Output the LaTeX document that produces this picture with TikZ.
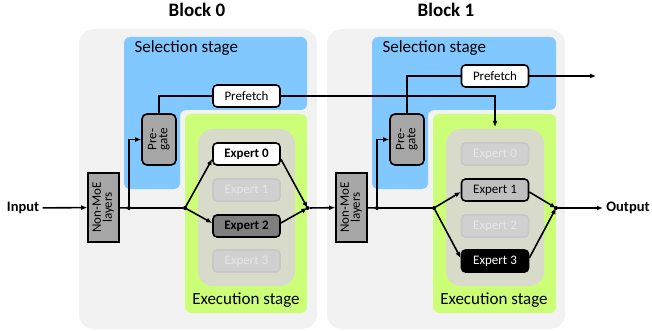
\documentclass[tikz,border=0pt]{standalone}
\usepackage{fontspec}
\setmainfont{Carlito}
\usepackage{graphicx}
\usetikzlibrary{arrows.meta,calc}
\definecolor{outerbg}{HTML}{F2F2F2}
\definecolor{selblue}{HTML}{80C8FF}
\definecolor{exgreen}{HTML}{CCFF77}
\definecolor{innerbg}{HTML}{D8DBC9}
\definecolor{boxgray}{HTML}{A6A6A6}
\definecolor{darkgray}{HTML}{7F7F7F}
\definecolor{midgray}{HTML}{BFBFBF}
\definecolor{fadefill}{HTML}{D0D0D0}
\definecolor{fadedraw}{HTML}{C8C8C8}
\definecolor{fadetext}{HTML}{E6E6E6}
\tikzset{
  line/.style={line width=1.6pt},
  arr/.style={line width=1.6pt,-{Latex[length=6pt,width=5pt]}},
  box/.style={draw,line width=1.6pt,inner sep=0pt,font=\fontsize{13}{14}\selectfont},
  expbox/.style={box,rounded corners=4pt,minimum width=67pt,minimum height=22pt},
  active/.style={expbox,fill=white,font=\fontsize{13}{14}\selectfont\bfseries},
  faded/.style={expbox,draw=fadedraw,fill=fadefill,text=fadetext},
  pgbox/.style={box,rounded corners=5pt,fill=boxgray,minimum width=34pt,minimum height=51pt},
  nmbox/.style={box,fill=boxgray,minimum width=31pt,minimum height=69pt},
  pfbox/.style={expbox,fill=white},
  dot/.style={circle,fill=black,inner sep=0pt,minimum size=4pt},
  title/.style={font=\fontsize{19}{20}\selectfont\bfseries},
  stagelbl/.style={font=\fontsize{17}{18}\selectfont},
  iolbl/.style={font=\fontsize{14.5}{16}\selectfont\bfseries},
}
\begin{document}
\begin{tikzpicture}[x=1pt,y=-1pt]
\useasboundingbox (0,0) rectangle (652,331);
% ---------- backgrounds ----------
\fill[outerbg,rounded corners=15pt] (79,29) rectangle (317,329);
\fill[outerbg,rounded corners=15pt] (327,29) rectangle (565,329);
\fill[selblue,rounded corners=6pt] (124,37) -- (307,37) -- (307,110) -- (180,110) -- (180,189) -- (124,189) -- cycle;
\fill[selblue,rounded corners=6pt] (372,37) -- (556,37) -- (556,110) -- (428,110) -- (428,189) -- (372,189) -- cycle;
\fill[exgreen,rounded corners=6pt] (185,114) rectangle (307,313);
\fill[exgreen,rounded corners=6pt] (433,114) rectangle (556,313);
\fill[innerbg,rounded corners=15pt] (198,129) rectangle (295,286);
\fill[innerbg,rounded corners=15pt] (446,129) rectangle (544,286);
% ---------- titles and stage labels ----------
\node[title] (t0) at (197,10) {Block 0};
\node[title] (t1) at (446,10) {Block 1};
\node[stagelbl,anchor=west] (sl0) at (131,48) {Selection stage};
\node[stagelbl,anchor=west] (sl1) at (379,48) {Selection stage};
\node[stagelbl] (el0) at (246,300) {Execution stage};
\node[stagelbl] (el1) at (494,300) {Execution stage};
% ---------- Block 0 ----------
\node[iolbl] (in) at (23,208) {Input};
\node[nmbox] (n0) at (103.5,207.5) {\rotatebox{90}{\begin{tabular}{@{}c@{}}Non-MoE\\[-3pt]layers\end{tabular}}};
\node[pgbox] (pg0) at (159,139.5) {\rotatebox{90}{\begin{tabular}{@{}c@{}}Pre-\\[-3pt]gate\end{tabular}}};
\node[pfbox] (pf0) at (246.5,96) {Prefetch};
\node[active] (e00) at (246.5,154) {Expert 0};
\node[faded] (e01) at (246.5,190) {Expert 1};
\node[active,fill=darkgray] (e02) at (246.5,226) {Expert 2};
\node[faded] (e03) at (246.5,261) {Expert 3};
\node[dot] (j0) at (129,208) {};
\node[dot] (s0) at (185,208) {};
\node[dot] (m0) at (307.5,208) {};
% ---------- Block 1 ----------
\node[nmbox] (n1) at (351.5,207.5) {\rotatebox{90}{\begin{tabular}{@{}c@{}}Non-MoE\\[-3pt]layers\end{tabular}}};
\node[pgbox] (pg1) at (407,139.5) {\rotatebox{90}{\begin{tabular}{@{}c@{}}Pre-\\[-3pt]gate\end{tabular}}};
\node[pfbox] (pf1) at (495,76) {Prefetch};
\node[faded] (e10) at (495,154) {Expert 0};
\node[expbox,fill=midgray] (e11) at (495,190) {Expert 1};
\node[faded] (e12) at (495,226) {Expert 2};
\node[expbox,fill=black,text=white] (e13) at (495,261) {Expert 3};
\node[dot] (j1) at (377,208) {};
\node[dot] (s1) at (434,208) {};
\node[dot] (m1) at (556,208) {};
\node[iolbl] (out) at (628,208) {Output};
\coordinate (pftgt) at (495,127);
\coordinate (pfout) at (596,76);
% ---------- connectors ----------
\draw[arr] (in) -- (n0);
\draw[line] (n0) -- (j0) -- (s0);
\draw[arr] (j0.center) |- (pg0.west);
\draw[line] (pg0.north) |- (pf0.west);
\draw[arr] (pf0.east) -| (pftgt);
\draw[arr] (s0.center) -- ([yshift=-5pt]e00.west);
\draw[arr] (s0.center) -- ([yshift=3pt]e02.west);
\draw[arr] ([yshift=-5pt]e00.east) -- (m0.center);
\draw[arr] ([yshift=3pt]e02.east) -- (m0.center);
\draw[arr] (m0) -- (n1);
\draw[line] (n1) -- (j1) -- (s1);
\draw[arr] (j1.center) |- (pg1.west);
\draw[line] (pg1.north) |- (pf1.west);
\draw[arr] (pf1.east) -- (pfout);
\draw[arr] (s1.center) -- ([yshift=-2pt]e11.west);
\draw[arr] (s1.center) -- ([yshift=3pt]e13.west);
\draw[arr] ([yshift=-2pt]e11.east) -- (m1.center);
\draw[arr] ([yshift=3pt]e13.east) -- (m1.center);
\draw[arr] (m1) -- (out);
\end{tikzpicture}
\end{document}
